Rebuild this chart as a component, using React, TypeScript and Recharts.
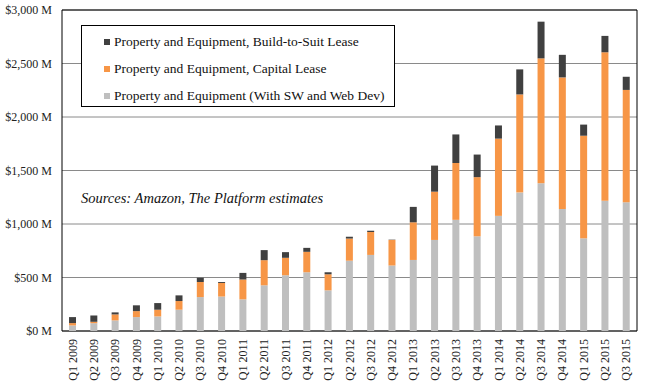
import { BarChart, Bar, XAxis, YAxis, CartesianGrid, Legend, ReferenceArea } from 'recharts';

const quarters = [
  'Q1 2009', 'Q2 2009', 'Q3 2009', 'Q4 2009',
  'Q1 2010', 'Q2 2010', 'Q3 2010', 'Q4 2010',
  'Q1 2011', 'Q2 2011', 'Q3 2011', 'Q4 2011',
  'Q1 2012', 'Q2 2012', 'Q3 2012', 'Q4 2012',
  'Q1 2013', 'Q2 2013', 'Q3 2013', 'Q4 2013',
  'Q1 2014', 'Q2 2014', 'Q3 2014', 'Q4 2014',
  'Q1 2015', 'Q2 2015', 'Q3 2015',
];

// $M
const equipment = [
  52, 73, 99, 130, 136, 199, 317, 322, 296, 427, 521, 549, 380, 657, 711, 612,
  664, 851, 1039, 885, 1076, 1295, 1381, 1141, 866, 1218, 1203,
];
const capitalLease = [
  22, 13, 56, 56, 63, 81, 141, 127, 185, 235, 163, 191, 150, 207, 214, 239,
  352, 451, 531, 553, 722, 916, 1167, 1229, 959, 1387, 1050,
];
const buildToSuit = [
  56, 59, 19, 54, 62, 53, 40, 9, 62, 94, 53, 37, 19, 17, 12, 3,
  144, 244, 267, 211, 123, 234, 343, 211, 104, 153, 123,
];

const yTicks = [0, 500, 1000, 1500, 2000, 2500, 3000];

const LEGEND_ORDER = ['bts', 'capital', 'equipment'];

const data = quarters.map((q, i) => ({
  quarter: q,
  equipment: equipment[i],
  capital: capitalLease[i],
  bts: buildToSuit[i],
}));

const FONT = '"Liberation Serif", "DejaVu Serif", serif';

const fmtMoney = (v: number) => `$${v.toLocaleString('en-US')} M`;

function QuarterTick({ x, y, payload }: any) {
  return (
    <text
      x={x}
      y={y}
      transform={`rotate(-90, ${x}, ${y})`}
      textAnchor="end"
      dominantBaseline="central"
      fontSize={12}
      fontFamily={FONT}
      fill="#222"
    >
      {payload.value}
    </text>
  );
}

function MoneyTick({ x, y, payload }: any) {
  return (
    <text x={x} y={y} textAnchor="end" dominantBaseline="central" fontSize={12} fontFamily={FONT} fill="#222">
      {fmtMoney(payload.value)}
    </text>
  );
}

function LegendBox({ payload }: any) {
  const items = [...(payload || [])].sort(
    (a: any, b: any) => LEGEND_ORDER.indexOf(a.dataKey) - LEGEND_ORDER.indexOf(b.dataKey)
  );
  return (
    <div
      style={{
        border: '1px solid #000',
        background: '#fff',
        width: 314,
        height: 82,
        boxSizing: 'border-box',
        paddingTop: 2,
        fontFamily: FONT,
        fontSize: 13.5,
        color: '#111',
      }}
    >
      {items.map((it: any) => (
        <div key={it.value} style={{ display: 'flex', alignItems: 'center', height: 27, paddingLeft: 22 }}>
          <span style={{ width: 6, height: 6, background: it.color, marginRight: 4, display: 'inline-block' }} />
          {it.value}
        </div>
      ))}
    </div>
  );
}

export default function App() {
  return (
    <div style={{ position: 'absolute', left: 0, top: 0, width: 651, height: 387, background: '#fff' }}>
      <BarChart
        width={651}
        height={387}
        data={data}
        margin={{ top: 10, right: 14, left: 0, bottom: 0 }}
        barCategoryGap="33%"
      >
        <CartesianGrid horizontal vertical={false} stroke="#8a8a8a" />
        <XAxis
          dataKey="quarter"
          interval={0}
          height={56}
          axisLine={false}
          tickLine={false}
          tick={<QuarterTick />}
        />
        <YAxis
          width={62}
          domain={[0, 3000]}
          ticks={yTicks}
          axisLine={false}
          tickLine={false}
          tickMargin={4}
          tick={<MoneyTick />}
        />
        <ReferenceArea y1={0} y2={3000} fill="none" stroke="#000" strokeWidth={1} ifOverflow="visible" />
        <Legend
          layout="vertical"
          align="center"
          verticalAlign="middle"
          wrapperStyle={{ left: 81, top: 25, width: 314 }}
          content={<LegendBox />}
        />
        <Bar dataKey="equipment" name="Property and Equipment (With SW and Web Dev)" stackId="a" fill="#bfbfbf" isAnimationActive={false} />
        <Bar dataKey="capital" name="Property and Equipment, Capital Lease" stackId="a" fill="#f79646" isAnimationActive={false} />
        <Bar dataKey="bts" name="Property and Equipment, Build-to-Suit Lease" stackId="a" fill="#404040" isAnimationActive={false} />
      </BarChart>
      <div
        style={{
          position: 'absolute',
          left: 81,
          top: 190,
          fontFamily: FONT,
          fontStyle: 'italic',
          fontSize: 14.5,
          color: '#111',
        }}
      >
        Sources: Amazon, The Platform estimates
      </div>
    </div>
  );
}
